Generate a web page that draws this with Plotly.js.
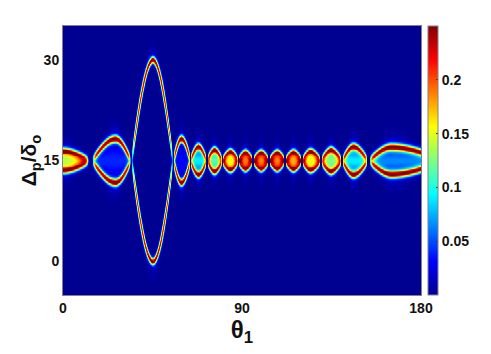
<!DOCTYPE html>
<html><head><meta charset="utf-8">
<script src="https://cdn.plot.ly/plotly-3.0.1.min.js"></script>
<style>html,body{margin:0;padding:0;background:#fff}#c{width:491px;height:354px}</style>
</head><body><div id="c"></div>
<script>
// Values, one entry per lobe (theta in degrees, heights in Delta_p/delta_o)
const lobeStart = [-12.7,14.4,34,55.5,64,72.5,80,88,95.5,103.5,111.5,120,129.5,140.5,154];
const lobePeak  = [0,26,45,59.5,68,76,84,91.5,99.4,107.4,115.5,124,134.5,146,165];
const lobeEnd   = [12.7,33.7,55.3,64,72,79.8,87.8,95,103,111,119.5,129,140,153,190.4];
const lobeHeight= [1.3,3.2,15,3.2,2,1.5,1.2,1.05,1.05,1.05,1.1,1.25,1.5,2,1.95];
const lobeRim   = [.26,.26,.26,.26,.26,.26,.26,.26,.26,.26,.26,.26,.26,.26,.26];
const lobeCore  = [.14,.04,0,.03,.09,.115,.15,.18,.18,.18,.17,.15,.125,.09,.065];
const lobeWidth = [.42,.42,.36,.4,.4,.4,.4,.4,.4,.4,.4,.4,.42,.42,.42];
const centre = 15, floorValue = 0.0005;
const thetaTicks = [0,90,180], thetaLabels = ['0','90','180'];
const deltaTicks = [0,15,30], deltaLabels = ['0','15','30'];
const barTicks = [.05,.1,.15,.2], barLabels = ['0.05','0.1','0.15','0.2'];

const thetas=[], deltas=[];
for(let i=0;i<=360;i++) thetas.push(i/2);
for(let j=0;j<=400;j++) deltas.push(-5+j/10);
const half=(l,th)=>{const t=th<lobePeak[l]?(lobePeak[l]-th)/(lobePeak[l]-lobeStart[l]):(th-lobePeak[l])/(lobeEnd[l]-lobePeak[l]);
  return {t,d:t>=1?0:lobeHeight[l]*Math.cos(Math.PI*t/2)};};
const z=deltas.map(()=>new Array(thetas.length).fill(floorValue));
lobeStart.forEach((_,l)=>{
  thetas.forEach((th,i)=>{
    const {t,d}=half(l,th); if(t>=1) return;
    const m=Math.abs(half(l,th+.25).d-half(l,th-.25).d)/.5*(6.725/1.989);
    const sy=Math.sqrt(lobeWidth[l]*lobeWidth[l]+Math.pow(.135*Math.min(m,6),2));
    const env=1-Math.pow(t,14);
    const flank=1-.22*m/(m+2);
    const apex=Math.pow(d/lobeHeight[l],6);
    deltas.forEach((y,j)=>{
      const u=Math.abs(y-centre), r=(u-d)/sy;
      const rim=lobeRim[l]*env*flank*Math.exp(-r*r/2);
      const halo=u>d?.035*apex*Math.exp(-(u-d)/1.1):0;
      const cs=Math.max(d*.62,.3);
      const core=lobeCore[l]*env*Math.exp(-u*u/(2*cs*cs));
      z[j][i]=Math.max(z[j][i],Math.min(.25,Math.max(rim,core+rim*.6)+halo));
    });
  });
});
const jet=[[0,'rgb(0,0,143)'],[.125,'rgb(0,0,255)'],[.375,'rgb(0,255,255)'],[.625,'rgb(255,255,0)'],[.875,'rgb(255,0,0)'],[1,'rgb(128,0,0)']];
const tf={family:'"Liberation Sans",Arial,sans-serif',size:14,color:'#111',weight:700};
Plotly.newPlot('c',[{type:'heatmap',x:thetas,y:deltas,z:z,zmin:0,zmax:.25,zsmooth:'best',colorscale:jet,
  colorbar:{thickness:10,len:1,lenmode:'fraction',x:1.0196,xanchor:'left',y:0,yanchor:'bottom',xpad:0,ypad:0,
    outlinecolor:'#808090',outlinewidth:1,tickvals:barTicks,ticktext:barLabels,ticks:'inside',ticklen:2,tickcolor:'#333',tickfont:tf}}],
 {width:491,height:354,margin:{l:63,r:70,t:26,b:59,pad:0},paper_bgcolor:'#fff',plot_bgcolor:'#00008f',showlegend:false,
  xaxis:{range:[0,180],tickvals:thetaTicks,ticktext:thetaLabels,ticks:'',tickfont:tf,showgrid:false,zeroline:false,showline:true,mirror:true,linecolor:'#808090',linewidth:1,
    title:{text:'θ<sub>1</sub>',standoff:0,font:{family:'"Liberation Sans",Arial,sans-serif',size:24,color:'#111',weight:700}}},
  yaxis:{range:[-5,35],tickvals:deltaTicks,ticktext:deltaLabels,ticks:'',tickfont:tf,showgrid:false,zeroline:false,showline:true,mirror:true,linecolor:'#808090',linewidth:1,
    title:{text:'Δ<sub>p</sub>/δ<sub>o</sub>',standoff:0,font:{family:'"Liberation Sans",Arial,sans-serif',size:21,color:'#111',weight:700}}}},
 {displayModeBar:false,staticPlot:true});
</script></body></html>
